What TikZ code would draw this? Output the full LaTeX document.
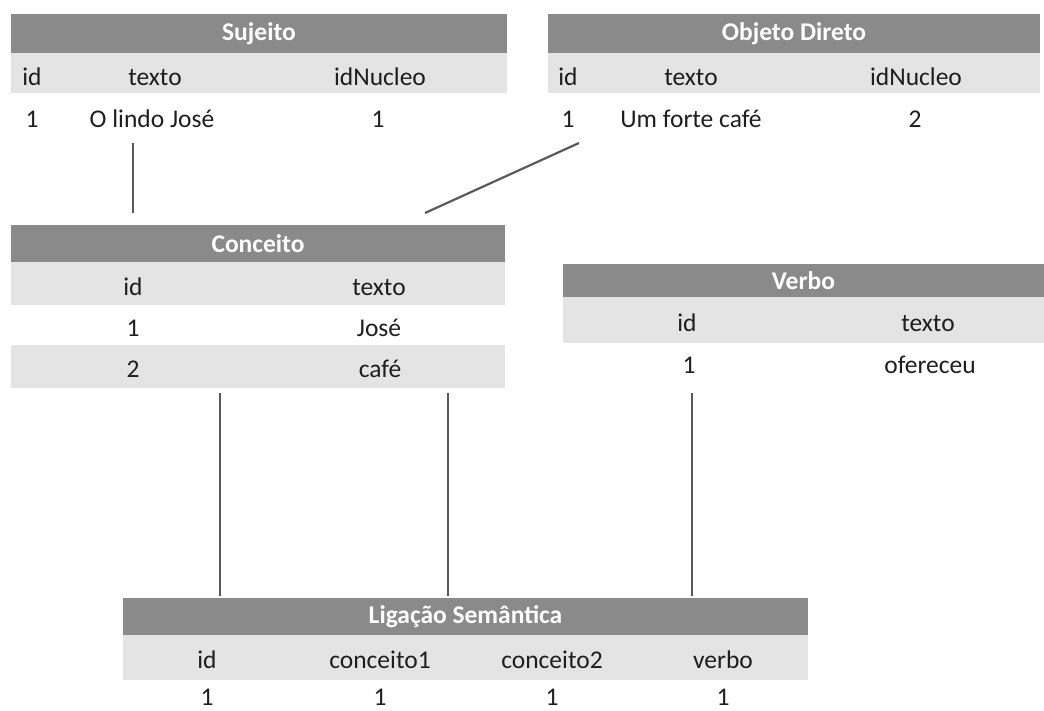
\documentclass[tikz,border=0pt]{standalone}
\usepackage{fontspec}
\setmainfont{Carlito}
\usepackage{tikz}

\definecolor{headgray}{RGB}{138,138,138}
\definecolor{bandgray}{RGB}{228,228,228}
\definecolor{inkgray}{RGB}{30,30,30}
\definecolor{linegray}{RGB}{90,90,90}

\begin{document}
\begin{tikzpicture}[x=1pt, y=-1pt,
    head/.style = {fill=headgray, text=white, font=\bfseries, inner sep=0pt},
    band/.style = {fill=bandgray},
    cell/.style = {text=inkgray, anchor=base, inner sep=0pt, yshift=-9pt},
    link/.style = {draw=linegray, line width=2.2pt}]
    \useasboundingbox (0,0) rectangle (1044,711);
    \fontsize{25.5}{30}\selectfont

    % Sujeito
    \fill[band] (11,53) rectangle (507,93);
    \node[head, minimum width=496pt, minimum height=39pt] (suj) at (259,33.5) {Sujeito};
    \foreach \txt/\px/\py [count = \i] in {id/32/77, texto/155/77, idNucleo/380/77,
                                           1/32/119, O lindo José/152/119, 1/378/119} {
        \node[cell] (suj-\i) at (\px,\py) {\txt};
    }

    % Objeto Direto
    \fill[band] (548,53) rectangle (1040,93);
    \node[head, minimum width=492pt, minimum height=39pt] (obj) at (794,33.5) {Objeto Direto};
    \foreach \txt/\px/\py [count = \i] in {id/568/77, texto/691/77, idNucleo/916/77,
                                           1/568/119, Um forte café/691/119, 2/915/119} {
        \node[cell] (obj-\i) at (\px,\py) {\txt};
    }

    % Conceito
    \fill[band] (11,262) rectangle (505,305);
    \fill[band] (11,345) rectangle (505,388);
    \node[head, minimum width=494pt, minimum height=37pt] (conc) at (258,243.5) {Conceito};
    \foreach \txt/\px/\py [count = \i] in {id/133/286, texto/379/286,
                                           1/133/327, José/379/327,
                                           2/133/368, café/380/368} {
        \node[cell] (conc-\i) at (\px,\py) {\txt};
    }

    % Verbo
    \fill[band] (563,297) rectangle (1044,343);
    \node[head, minimum width=481pt, minimum height=33pt] (verb) at (803.5,280.5) {Verbo};
    \foreach \txt/\px/\py [count = \i] in {id/687/322, texto/928/322,
                                           1/689/364, ofereceu/930/364} {
        \node[cell] (verb-\i) at (\px,\py) {\txt};
    }

    % Ligacao Semantica
    \fill[band] (123,635) rectangle (808,680);
    \node[head, minimum width=685pt, minimum height=37pt] (lig) at (465.5,616.5) {Ligação Semântica};
    \foreach \txt/\px/\py [count = \i] in {id/207/659, conceito1/380/659, conceito2/552/659, verbo/723/659,
                                           1/207/696, 1/380/696, 1/552/696, 1/723/696} {
        \node[cell] (lig-\i) at (\px,\py) {\txt};
    }

    % ligacoes entre tabelas
    \coordinate (suj-a) at (133,143);
    \coordinate (conc-a) at (133,213);
    \coordinate (obj-a) at (579,143);
    \coordinate (conc-b) at (425,213);
    \coordinate (conc-c) at (220,393);
    \coordinate (conc-d) at (448,393);
    \coordinate (verb-a) at (692,393);
    \coordinate (lig-a) at (220,596);
    \coordinate (lig-b) at (448,596);
    \coordinate (lig-c) at (692,596);

    \draw[link] (suj-a) -- (conc-a);
    \draw[link] (obj-a) -- (conc-b);
    \draw[link] (conc-c) -- (lig-a);
    \draw[link] (conc-d) -- (lig-b);
    \draw[link] (verb-a) -- (lig-c);
\end{tikzpicture}
\end{document}
